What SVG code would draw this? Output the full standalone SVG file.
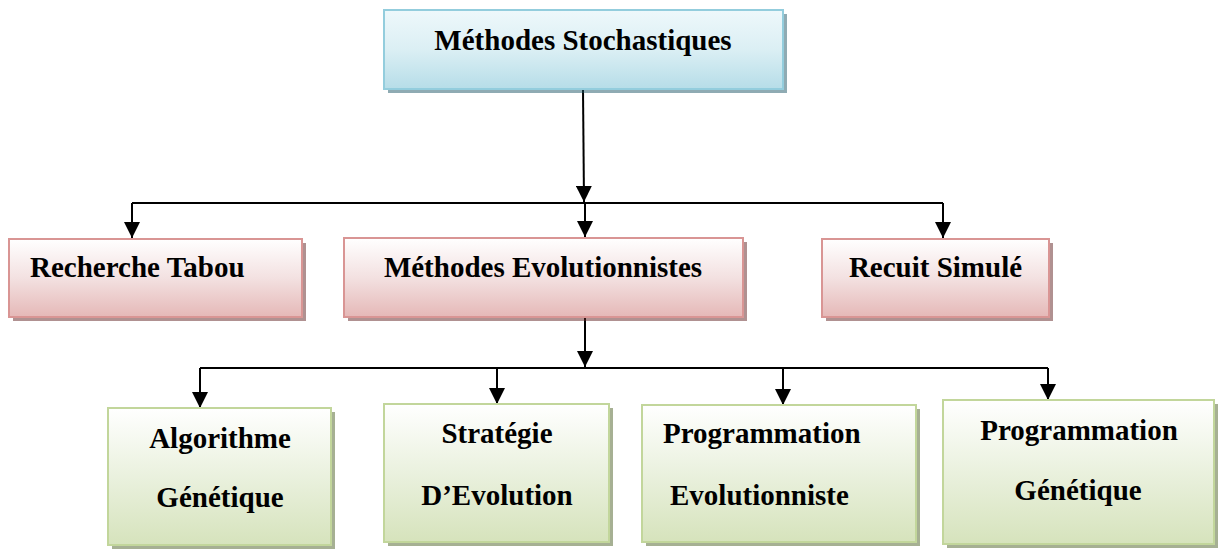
<svg xmlns="http://www.w3.org/2000/svg" width="1219" height="554" viewBox="0 0 1219 554" font-family="Liberation Serif, Tinos, Times New Roman, DejaVu Serif, serif">
<style>
text{font-weight:700;font-size:29px;fill:#000}
.c{text-anchor:middle}
.blue{fill:url(#gBlue);stroke:#93cddd;stroke-width:2}
.pink{fill:url(#gPink);stroke:#d99594;stroke-width:2}
.green{fill:url(#gGreen);stroke:#c2d69b;stroke-width:2}
.shB{fill:#205867;opacity:0.5}
.shP{fill:#622423;opacity:0.5}
.shG{fill:#4e6128;opacity:0.5}
.ln{fill:none;stroke:#000;stroke-width:2}
</style>
<defs>
<linearGradient id="gBlue" x1="0" y1="0" x2="0" y2="1">
<stop offset="0" stop-color="#eef8fb"/>
<stop offset="0.5" stop-color="#dbeff4"/>
<stop offset="1" stop-color="#b6dde8"/>
</linearGradient>
<linearGradient id="gPink" x1="0" y1="0" x2="0" y2="1">
<stop offset="0" stop-color="#ffffff"/>
<stop offset="0.5" stop-color="#f3e1e1"/>
<stop offset="1" stop-color="#e5b8b7"/>
</linearGradient>
<linearGradient id="gGreen" x1="0" y1="0" x2="0" y2="1">
<stop offset="0" stop-color="#ffffff"/>
<stop offset="0.5" stop-color="#eaf1de"/>
<stop offset="1" stop-color="#d6e3bc"/>
</linearGradient>
<marker id="arr" markerUnits="userSpaceOnUse" markerWidth="16" markerHeight="16" refX="16" refY="8" orient="auto">
<path d="M0,0 L16,8 L0,16 z" fill="#000"/>
</marker>
</defs>

<g id="connectors">
<path class="ln" d="M583,90 L584,202" marker-end="url(#arr)"/>
<path class="ln" d="M132,203 H943"/>
<path class="ln" d="M132,203 V238" marker-end="url(#arr)"/>
<path class="ln" d="M585,203 V237" marker-end="url(#arr)"/>
<path class="ln" d="M943,203 V238" marker-end="url(#arr)"/>
<path class="ln" d="M585,318 V367" marker-end="url(#arr)"/>
<path class="ln" d="M200,368 H1048"/>
<path class="ln" d="M200,368 V408" marker-end="url(#arr)"/>
<path class="ln" d="M497,368 V404" marker-end="url(#arr)"/>
<path class="ln" d="M783,368 V405" marker-end="url(#arr)"/>
<path class="ln" d="M1048,368 V400" marker-end="url(#arr)"/>
</g>

<g id="node-stochastiques">
<rect class="shB" x="388" y="14" width="399" height="79"/>
<rect class="blue" x="384" y="10" width="399" height="79"/>
<text class="c" x="583" y="50">Méthodes Stochastiques</text>
</g>

<g id="node-tabou">
<rect class="shP" x="13" y="243" width="293" height="78"/>
<rect class="pink" x="9" y="239" width="293" height="78"/>
<text x="30" y="277">Recherche Tabou</text>
</g>

<g id="node-evolutionnistes">
<rect class="shP" x="348" y="242" width="399" height="79"/>
<rect class="pink" x="344" y="238" width="399" height="79"/>
<text class="c" x="543" y="277">Méthodes Evolutionnistes</text>
</g>

<g id="node-recuit">
<rect class="shP" x="826" y="243" width="227" height="78"/>
<rect class="pink" x="822" y="239" width="227" height="78"/>
<text class="c" x="935.5" y="277">Recuit Simulé</text>
</g>

<g id="node-ag">
<rect class="shG" x="112" y="412" width="223" height="137"/>
<rect class="green" x="108" y="408" width="223" height="137"/>
<text class="c" x="220" y="448">Algorithme</text>
<text class="c" x="220" y="507">Génétique</text>
</g>

<g id="node-strategie">
<rect class="shG" x="388" y="408" width="225" height="138"/>
<rect class="green" x="384" y="404" width="225" height="138"/>
<text class="c" x="497" y="443">Stratégie</text>
<text class="c" x="497" y="505">D’Evolution</text>
</g>

<g id="node-progevol">
<rect class="shG" x="646" y="409" width="274" height="137"/>
<rect class="green" x="642" y="405" width="274" height="137"/>
<text x="663" y="443">Programmation</text>
<text x="670" y="505">Evolutionniste</text>
</g>

<g id="node-proggen">
<rect class="shG" x="947" y="404" width="271" height="144"/>
<rect class="green" x="943" y="400" width="271" height="144"/>
<text class="c" x="1079" y="440">Programmation</text>
<text class="c" x="1078" y="500">Génétique</text>
</g>
</svg>
